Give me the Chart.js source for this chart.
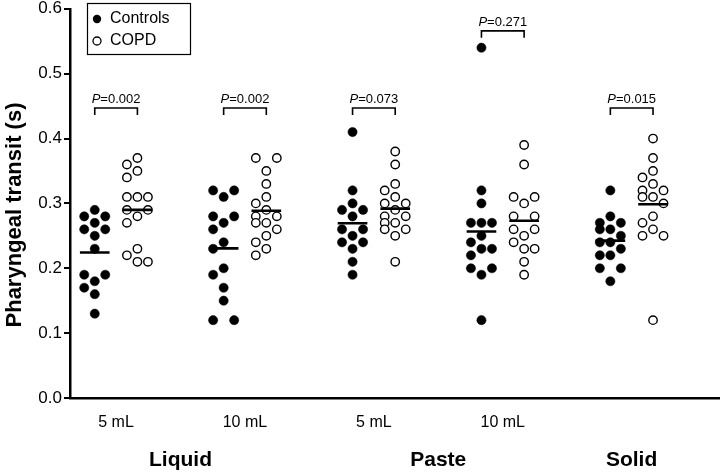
<!DOCTYPE html>
<html>
<head>
<meta charset="utf-8">
<script src="https://cdn.jsdelivr.net/npm/chart.js@4.4.0/dist/chart.umd.min.js"></script>
<style>
  html, body { margin: 0; padding: 0; background: #fff; }
  #wrap { width: 725px; height: 472px; position: relative; }
</style>
</head>
<body>
<div id="wrap"><canvas id="chart"></canvas></div>
<script>
"use strict";

/* ---- data ---- */
const volumeLabels = ["5 mL", "10 mL", "5 mL", "10 mL", ""];
const textures = ["Liquid", "Paste", "Solid"];
const textureGroups = [[0, 1], [2, 3], [4, 4]];   // which columns each texture spans

const controls = [
  [0.29, 0.28, 0.28, 0.27, 0.26, 0.26, 0.25, 0.23, 0.19, 0.19, 0.18, 0.17, 0.16, 0.13],
  [0.32, 0.32, 0.31, 0.28, 0.28, 0.27, 0.26, 0.24, 0.23, 0.20, 0.19, 0.17, 0.15, 0.12, 0.12],
  [0.41, 0.32, 0.30, 0.29, 0.29, 0.28, 0.26, 0.26, 0.25, 0.24, 0.24, 0.23, 0.21, 0.19],
  [0.54, 0.32, 0.30, 0.27, 0.27, 0.27, 0.25, 0.24, 0.23, 0.23, 0.22, 0.20, 0.20, 0.19, 0.12],
  [0.32, 0.28, 0.27, 0.27, 0.26, 0.26, 0.25, 0.24, 0.24, 0.23, 0.22, 0.22, 0.20, 0.20, 0.18],
];
const copd = [
  [0.37, 0.36, 0.35, 0.34, 0.31, 0.31, 0.31, 0.29, 0.29, 0.28, 0.27, 0.23, 0.22, 0.21, 0.21],
  [0.37, 0.37, 0.35, 0.33, 0.31, 0.30, 0.29, 0.28, 0.28, 0.27, 0.27, 0.26, 0.25, 0.24, 0.23, 0.22],
  [0.38, 0.36, 0.33, 0.32, 0.31, 0.30, 0.30, 0.29, 0.28, 0.28, 0.27, 0.27, 0.26, 0.26, 0.25, 0.21],
  [0.39, 0.36, 0.31, 0.31, 0.30, 0.28, 0.28, 0.26, 0.26, 0.25, 0.24, 0.23, 0.23, 0.21, 0.19],
  [0.40, 0.37, 0.35, 0.34, 0.33, 0.32, 0.32, 0.31, 0.31, 0.30, 0.28, 0.27, 0.26, 0.25, 0.25, 0.12],
];
const pValues = ["0.002", "0.002", "0.073", "0.271", "0.015"];
const bracketLevel = [0.447, 0.447, 0.447, 0.566, 0.447];

/* ---- geometry of the category axis (one unit per column pair) ---- */
const X_MAX = 5.038;
const CTRL_OFF = 0.192, COPD_OFF = 0.523;
const PX_X = 655 / X_MAX, PX_Y = 391 / 0.6;   // approx px per unit, for dot spreading
const STEP = 10.6 / PX_X;                      // sideways step between touching dots
const MIN_D = 9;                               // px, dots closer than this collide

const FONT = "'Liberation Sans', Arial, Helvetica, sans-serif";

// spread tied / close values sideways (beeswarm kept to three lanes, like the figure)
function swarm(values, cx) {
  const pts = [];
  const sorted = [...values].sort((a, b) => b - a);
  const nearest = (x, v) => pts.reduce((m, p) => Math.min(m, Math.hypot((p.x - x) * PX_X, (p.y - v) * PX_Y)), Infinity);
  let i = 0;
  while (i < sorted.length) {
    let j = i;
    while (j < sorted.length && sorted[j] === sorted[i]) j++;
    const order = (j - i) % 2 ? [0, -1, 1] : [-1, 1, 0];
    for (let k = i; k < j; k++) {
      const v = sorted[k];
      let best = null, bestD = -1;
      for (const o of order) {
        const d = nearest(cx + o * STEP, v);
        if (d >= MIN_D) { best = o; break; }
        if (d > bestD) { bestD = d; best = o; }
      }
      pts.push({ x: cx + best * STEP, y: v });
    }
    i = j;
  }
  return pts;
}

const mean = (a) => a.reduce((s, v) => s + v, 0) / a.length;

const ctrlPts = controls.flatMap((vals, g) => swarm(vals, g + CTRL_OFF));
const copdPts = copd.flatMap((vals, g) => swarm(vals, g + COPD_OFF));

const meanSets = [];
[[controls, CTRL_OFF], [copd, COPD_OFF]].forEach(([series, off]) => {
  series.forEach((vals, g) => {
    const m = mean(vals), cx = g + off;
    meanSets.push({
      type: "line", order: 0,
      data: [{ x: cx - 0.115, y: m }, { x: cx + 0.115, y: m }],
      borderColor: "#000", borderWidth: 2.6, pointRadius: 0, showLine: true,
    });
  });
});

/* ---- extras: significance brackets, legend box, texture labels, y title ---- */
const extras = {
  id: "extras",
  afterDraw(chart) {
    const { ctx, scales: { x, y } } = chart;
    ctx.save();
    ctx.strokeStyle = "#000";
    ctx.fillStyle = "#000";

    // brackets
    pValues.forEach((p, g) => {
      const x1 = x.getPixelForValue(g + CTRL_OFF), x2 = x.getPixelForValue(g + COPD_OFF);
      const top = y.getPixelForValue(bracketLevel[g]);
      ctx.lineWidth = 1.6;
      ctx.beginPath();
      ctx.moveTo(x1, top + 7); ctx.lineTo(x1, top); ctx.lineTo(x2, top); ctx.lineTo(x2, top + 7);
      ctx.stroke();
      const cx = (x1 + x2) / 2;
      ctx.textBaseline = "alphabetic";
      ctx.font = `italic 13px ${FONT}`;
      const wP = ctx.measureText("P").width;
      ctx.font = `13px ${FONT}`;
      const rest = "=" + p;
      const wR = ctx.measureText(rest).width;
      const x0 = cx - (wP + wR) / 2;
      ctx.font = `italic 13px ${FONT}`;
      ctx.textAlign = "left";
      ctx.fillText("P", x0, top - 5);
      ctx.font = `13px ${FONT}`;
      ctx.fillText(rest, x0 + wP, top - 5);
    });

    // texture labels under the volume labels
    ctx.font = `bold 21px ${FONT}`;
    ctx.textAlign = "center";
    ctx.textBaseline = "middle";
    textures.forEach((t, k) => {
      const [a, b] = textureGroups[k];
      const cx = (x.getPixelForValue(a + 0.357) + x.getPixelForValue(b + 0.357)) / 2;
      ctx.fillText(t, cx, 460);
    });

    // y axis title
    ctx.save();
    ctx.translate(15, 215);
    ctx.rotate(-Math.PI / 2);
    ctx.font = `bold 22px ${FONT}`;
    ctx.fillText("Pharyngeal transit (s)", 0, 0);
    ctx.restore();

    // legend box
    ctx.lineWidth = 1.2;
    ctx.strokeRect(87.5, 3.5, 103, 51);
    ctx.font = `16px ${FONT}`;
    ctx.textAlign = "left";
    ctx.beginPath(); ctx.arc(97, 19, 4.2, 0, Math.PI * 2); ctx.fill();
    ctx.fillText("Controls", 110, 19);
    ctx.fillStyle = "#fff";
    ctx.lineWidth = 1.3;
    ctx.beginPath(); ctx.arc(97, 41, 4, 0, Math.PI * 2); ctx.fill(); ctx.stroke();
    ctx.fillStyle = "#000";
    ctx.fillText("COPD", 110, 41);
    ctx.restore();
  },
};

new Chart(document.getElementById("chart"), {
  type: "scatter",
  data: {
    datasets: [
      ...meanSets,
      {
        label: "Controls", order: 1, data: ctrlPts,
        pointRadius: 4.6, pointBackgroundColor: "#000", pointBorderColor: "#000", pointBorderWidth: 0.5,
      },
      {
        label: "COPD", order: 1, data: copdPts,
        pointRadius: 4.2, pointBackgroundColor: "#fff", pointBorderColor: "#000", pointBorderWidth: 1.4,
      },
    ],
  },
  options: {
    responsive: true, maintainAspectRatio: false, animation: false,
    layout: { padding: { top: 7, right: 0, bottom: 0, left: 0 } },
    plugins: { legend: { display: false }, tooltip: { enabled: false } },
    scales: {
      x: {
        type: "linear", min: 0, max: X_MAX,
        grid: { display: false, drawTicks: false },
        border: { display: true, color: "#000", width: 2.5 },
        afterBuildTicks: (s) => { s.ticks = volumeLabels.map((_, g) => ({ value: g + 0.357 })).filter((_, g) => volumeLabels[g]); },
        afterFit: (s) => { s.height = 74; },
        ticks: {
          autoSkip: false, maxRotation: 0, padding: 15, color: "#000",
          font: { family: FONT, size: 16 },
          callback: (v) => volumeLabels[Math.round(v - 0.357)] || "",
        },
      },
      y: {
        min: 0, max: 0.6,
        grid: { drawOnChartArea: false, drawTicks: true, tickLength: 6, color: "#000", lineWidth: 2 },
        border: { display: true, color: "#000", width: 2.5 },
        afterFit: (s) => { s.width = 70; },
        ticks: {
          stepSize: 0.1, padding: 2, color: "#000",
          font: { family: FONT, size: 17, lineHeight: 0.8 },
          callback: (v) => v.toFixed(1),
        },
      },
    },
  },
  plugins: [extras],
});
</script>
</body>
</html>
